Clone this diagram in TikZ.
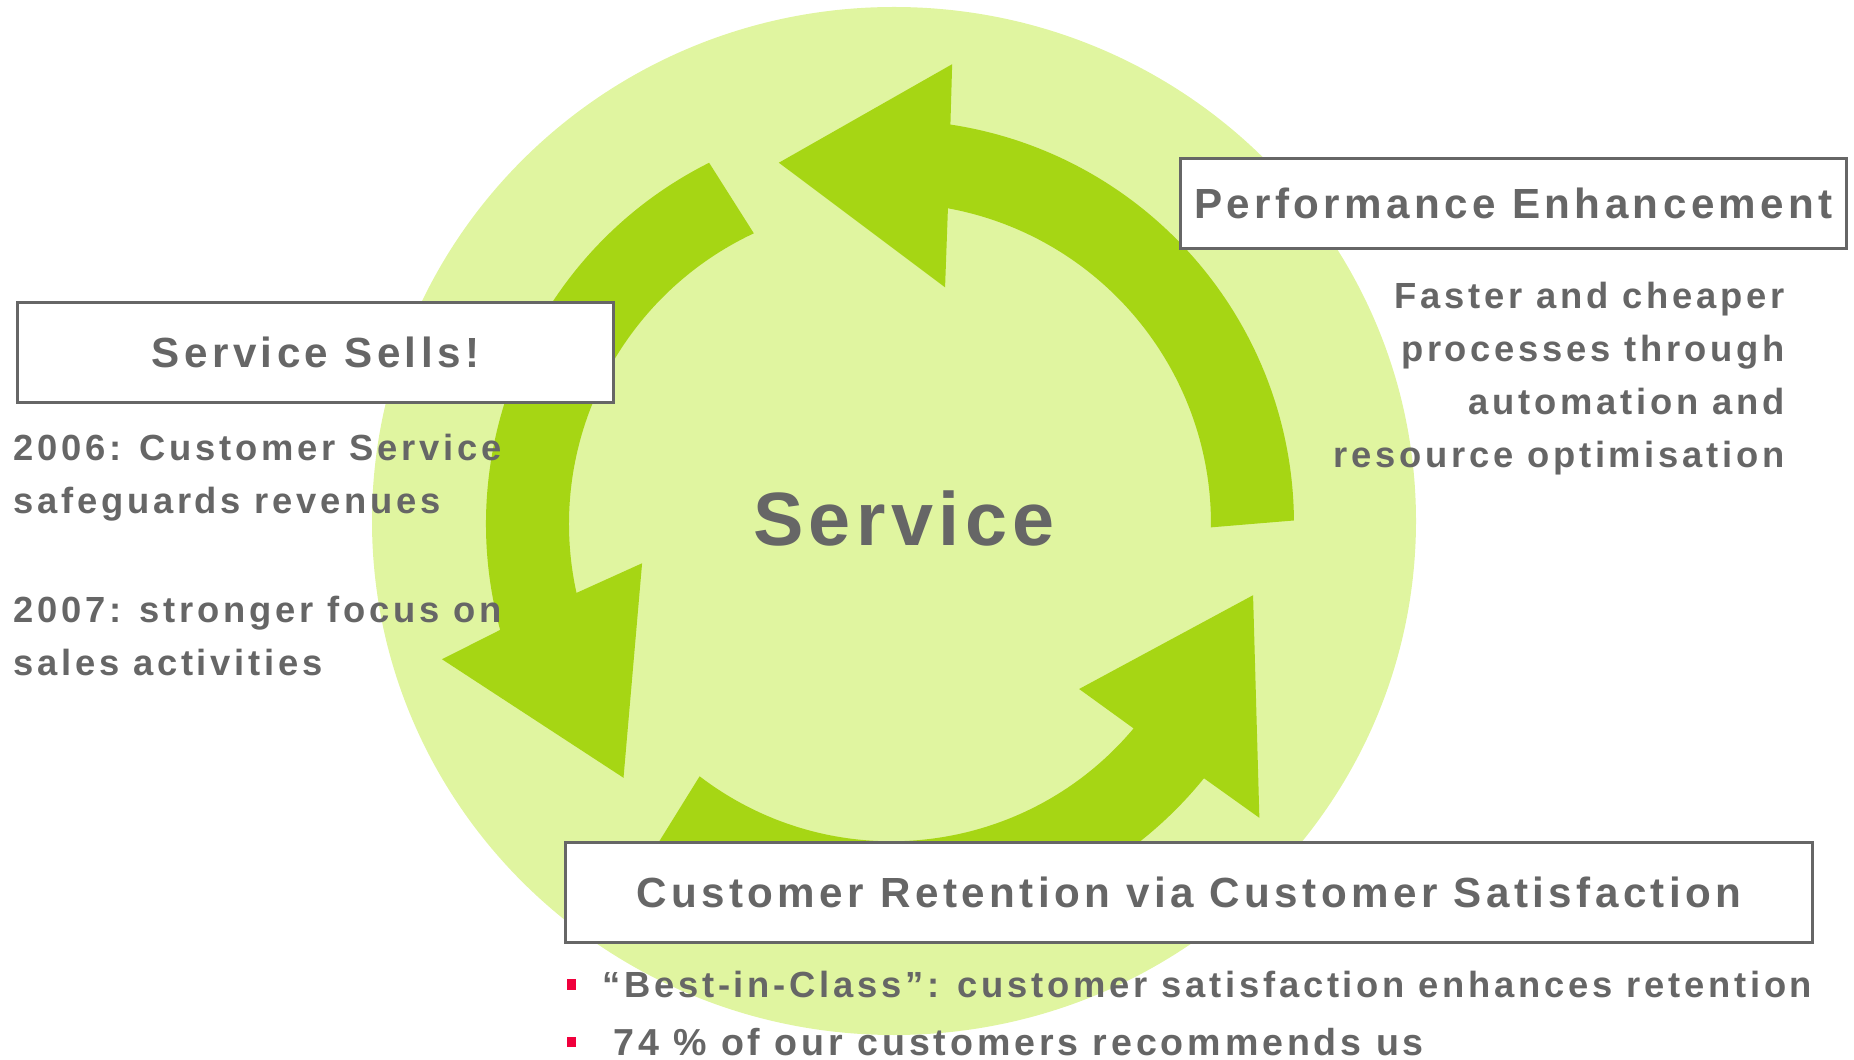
\documentclass[tikz,border=0pt]{standalone}
\usepackage{fontspec}
\setmainfont{Liberation Sans}
\newfontfamily\hubfont{Liberation Sans}[LetterSpace=7.3]
\newfontfamily\headfont{Liberation Sans}[LetterSpace=10.5]
\newfontfamily\notefont{Liberation Sans}[LetterSpace=10.3]
\definecolor{disc}{HTML}{E0F5A0}
\definecolor{leaf}{HTML}{A6D614}
\definecolor{ink}{HTML}{666666}
\definecolor{dot}{HTML}{F0003C}
\tikzset{
  headbox/.style={draw=ink, line width=0.06cm, fill=white, inner sep=0pt, text=ink,
    font=\headfont\bfseries\fontsize{24}{28}\selectfont},
  note/.style={text=ink, inner sep=0pt, font=\notefont\bfseries\fontsize{20.7}{30.3}\selectfont}
}

\begin{document}
\begin{tikzpicture}[x=0.02cm, y=-0.02cm]
\useasboundingbox (0,0) rectangle (1854,1060);
% Backdrop disc
    \fill[disc] (894,521) ellipse[x radius=522, y radius=514];
% Cycle arrows
\begin{scope}[shift={(890,524)}, leaf]
    \fill (-0.5:404) arc[start angle=-0.5, end angle=-81.4, radius=404] -- (-82.3:464)
        -- (-107.1:378) -- (-76.9:243) -- (-79.6:321) arc[start angle=-79.6, end angle=0.6, radius=321] -- cycle;
    \fill (243.4:404) arc[start angle=243.4, end angle=164.8, radius=404] -- (163.2:468)
        -- (136.4:368) -- (171:251) -- (167.6:321) arc[start angle=167.6, end angle=244.9, radius=321] -- cycle;
    \fill (125.9:404) arc[start angle=125.9, end angle=39, radius=404] -- (38.5:472)
        -- (11.1:370) -- (41.1:251) -- (40:318) arc[start angle=40, end angle=127.4, radius=316] -- cycle;
\end{scope}
% Centre word
    \node[text=ink, inner sep=0pt, font=\hubfont\bfseries\fontsize{43}{50}\selectfont] (hub) at (904,519) {Service};
% Headings
    \node[headbox, minimum width=11.92cm, minimum height=2cm] (sells) at (315.5,352.5) {Service Sells!};
    \node[headbox, minimum width=13.32cm, minimum height=1.8cm] (perf) at (1513.5,203.5) {Performance Enhancement};
    \node[headbox, minimum width=24.94cm, minimum height=2cm] (retain) at (1189,892.5) {Customer Retention via Customer Satisfaction};
% Notes (base anchor sits on the last line)
    \node[note, anchor=base west, align=left] (sells06) at (13,514) {2006: Customer Service\\safeguards revenues};
    \node[note, anchor=base west, align=left] (sells07) at (13,675.5) {2007: stronger focus on\\sales activities};
    \node[note, anchor=base east, align=right] (perfnote) at (1785,468) {Faster and cheaper\\processes through\\automation and\\resource optimisation};
    \fill[dot] (567,979) rectangle (576,990);
    \fill[dot] (567,1037) rectangle (576,1047);
    \node[note, anchor=base west] (best) at (602,997.5) {“Best-in-Class”: customer satisfaction enhances retention};
    \node[note, anchor=base west, font=\notefont\bfseries\fontsize{21.4}{30.3}\selectfont] (share) at (613,1055) {74 \% of our customers recommends us};
\end{tikzpicture}
\end{document}
